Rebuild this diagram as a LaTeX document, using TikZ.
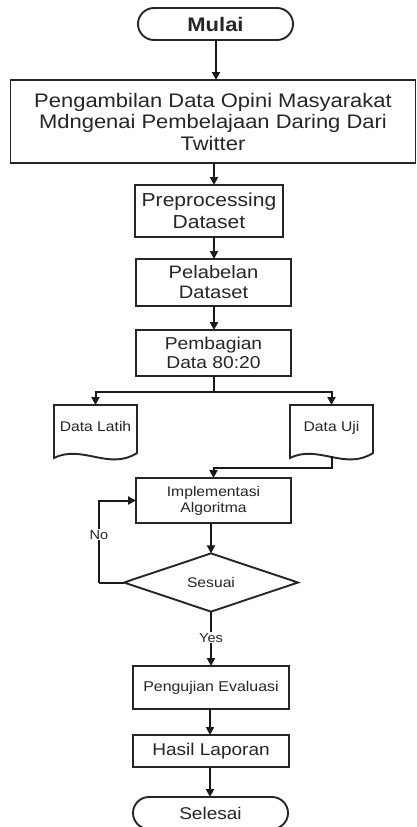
\documentclass[tikz,border=0pt]{standalone}
\usepackage{fontspec}
\setmainfont[FakeStretch=1.12]{Liberation Sans}
\usetikzlibrary{shapes.misc,shapes.geometric,arrows.meta}
\begin{document}
\begin{tikzpicture}[x=1pt,y=-1pt,
  every node/.style={inner sep=0pt,outer sep=0pt,text=black!85,align=center},
  line/.style={draw=black!90,line width=2pt},
  arr/.style={line,-{Triangle[length=8pt,width=8pt]}},
  proc/.style={draw=black!85,line width=1.9pt,rectangle},
  term/.style={draw=black!85,line width=1.9pt,rounded rectangle,minimum width=155pt,minimum height=32pt},
  docbox/.style={rectangle,minimum width=83pt,minimum height=48pt},
  lbl/.style={fill=white,inner sep=1pt,font=\fontsize{13}{15}\selectfont}]
\useasboundingbox (0,0) rectangle (417,827);
\fill[white] (0,0) rectangle (417,827);

\node[term,font=\fontsize{19.6}{22}\selectfont\bfseries] (mulai) at (215.5,24) {Mulai};
\node[proc,minimum width=405pt,minimum height=83pt,font=\fontsize{19.6}{21.5}\selectfont] (ambil) at (213,121.5)
  {Pengambilan Data Opini Masyarakat\\Mdngenai Pembelajaan Daring Dari\\Twitter};
\node[proc,minimum width=148pt,minimum height=52pt,font=\fontsize{18.8}{21.7}\selectfont] (pre) at (209,211) {Preprocessing\\Dataset};
\node[proc,minimum width=155pt,minimum height=47pt,font=\fontsize{18}{20}\selectfont] (label) at (213.5,282.5) {Pelabelan\\Dataset};
\node[proc,minimum width=155pt,minimum height=46pt,font=\fontsize{17.2}{19}\selectfont] (bagi) at (213.5,353) {Pembagian\\Data 80:20};

\node[docbox,font=\fontsize{14}{16}\selectfont] (latih) at (95.5,429) {\raisebox{6pt}{Data Latih}};
\node[docbox,font=\fontsize{14}{16}\selectfont] (uji) at (331.5,429) {\raisebox{6pt}{Data Uji}};
\foreach \d in {latih,uji}{
  \draw[black!85,line width=1.9pt] (\d.north west) -- (\d.north east) -- (\d.south east)
    .. controls ([xshift=-28pt,yshift=-18pt]\d.south east) and ([xshift=28pt,yshift=9pt]\d.south west) ..
    ([yshift=-5pt]\d.south west) -- cycle;
}
\coordinate (ujiwave) at ([yshift=-2.5pt]uji.south);

\node[proc,minimum width=155pt,minimum height=45pt,font=\fontsize{14}{16}\selectfont] (impl) at (213.5,500.5) {Implementasi\\Algoritma};
\node[draw=black!85,line width=1.9pt,diamond,minimum width=174pt,minimum height=47pt,font=\fontsize{14}{16}\selectfont] (sesuai) at (211,582.5) {Sesuai};
\node[proc,minimum width=156pt,minimum height=43pt,font=\fontsize{14.2}{16}\selectfont] (uji2) at (211,687.5) {Pengujian Evaluasi};
\node[proc,minimum width=156pt,minimum height=32pt,font=\fontsize{17}{19}\selectfont] (hasil) at (211,751) {Hasil Laporan};
\node[term,font=\fontsize{17}{19}\selectfont] (selesai) at (210.5,813) {Selesai};

\coordinate (split) at (214,392);
\coordinate (noc) at (99,582.5);

\draw[arr] (mulai.south -| 216,0) -- (ambil.north -| 216,0);
\draw[arr] (ambil.south -| 214,0) -- (pre.north -| 214,0);
\draw[arr] (pre.south -| 214,0) -- (label.north -| 214,0);
\draw[arr] (label.south -| 214,0) -- (bagi.north -| 214,0);
\draw[line] (bagi.south -| split) -- (split);
\draw[arr] (split) -| (latih.north);
\draw[arr] (split) -| (uji.north);
\draw[arr] (ujiwave) -- ++(0,12) -| (impl.north);
\draw[arr] (impl.south -| sesuai.north) -- (sesuai.north);
\draw[line] (sesuai.west) -- (noc);
\draw[arr] (noc) |- (impl.west) node[lbl,pos=0.29] {No};
\draw[arr] (sesuai.south) -- (uji2.north) node[lbl,pos=0.48] {Yes};
\draw[arr] (uji2.south -| 210,0) -- (hasil.north -| 210,0);
\draw[arr] (hasil.south -| 210,0) -- (selesai.north -| 210,0);
\end{tikzpicture}
\end{document}
